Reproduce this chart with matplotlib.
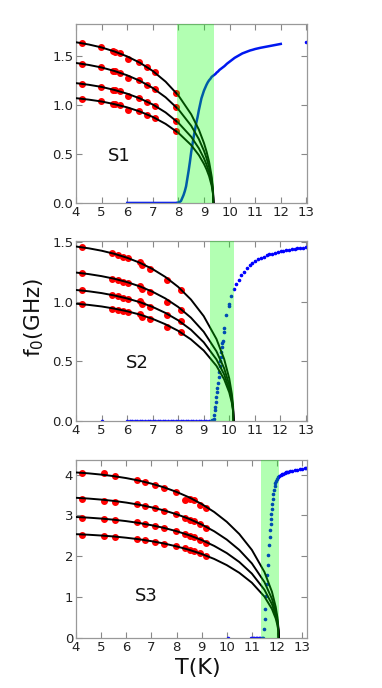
import matplotlib
matplotlib.use("Agg")
import matplotlib.pyplot as plt

# ---- S1 ----
s1_fit_T = [4, 4.5, 5, 5.5, 6, 6.5, 7, 7.5, 8, 8.5, 8.8, 9.0, 9.1, 9.2, 9.3, 9.35, 9.37]
s1_fits = [
    [1.644, 1.621, 1.591, 1.550, 1.499, 1.434, 1.350, 1.241, 1.100, 0.907, 0.750, 0.612, 0.526, 0.421, 0.271, 0.145, 0],
    [1.432, 1.412, 1.386, 1.350, 1.306, 1.249, 1.176, 1.081, 0.958, 0.790, 0.653, 0.533, 0.458, 0.367, 0.236, 0.127, 0],
    [1.226, 1.209, 1.187, 1.156, 1.118, 1.069, 1.007, 0.926, 0.820, 0.677, 0.559, 0.456, 0.392, 0.314, 0.202, 0.108, 0],
    [1.072, 1.057, 1.038, 1.011, 0.978, 0.935, 0.880, 0.809, 0.717, 0.592, 0.489, 0.399, 0.343, 0.274, 0.177, 0.095, 0],
]
s1_meas_T = [4.24, 4.96, 5.44, 5.54, 5.70, 6.04, 6.45, 6.79, 7.08, 7.90]
s1_meas = [
    [1.633, 1.593, 1.555, 1.547, 1.531, 1.476, 1.440, 1.386, 1.337, 1.125],
    [1.422, 1.388, 1.355, 1.347, 1.333, 1.283, 1.254, 1.207, 1.164, 0.979],
    [1.217, 1.188, 1.160, 1.154, 1.141, 1.096, 1.074, 1.034, 0.997, 0.839],
    [1.065, 1.039, 1.014, 1.009, 0.998, 0.956, 0.939, 0.904, 0.872, 0.733],
]
s1_blue_T = [6.0, 6.1, 6.2, 6.3, 6.4, 6.5, 6.6, 6.7, 6.8, 6.9, 7.0, 7.1, 7.2, 7.3, 7.4, 7.5,
             7.6, 7.7, 7.8, 7.9, 8.0, 8.05, 8.1, 8.15, 8.2, 8.25, 8.3, 8.35, 8.4, 8.45, 8.5,
             8.55, 8.6, 8.65, 8.7, 8.75, 8.8, 8.85, 8.9, 8.95, 9.0, 9.05, 9.1, 9.15, 9.2, 9.25,
             9.3, 9.35, 9.4, 9.45, 9.5, 9.55, 9.6, 9.65, 9.7, 9.8, 9.9, 10.0, 10.1, 10.2, 10.3,
             10.4, 10.5, 10.6, 10.7, 10.8, 10.9, 11.0, 11.1, 11.2, 11.3, 11.4, 11.5, 11.6, 11.7,
             11.8, 11.9, 12.0]
s1_blue = [0, 0, 0, 0, 0, 0, 0, 0, 0, 0, 0, 0, 0, 0, 0, 0,
           0, 0, 0, 0, 0.005, 0.01, 0.02, 0.05, 0.08, 0.12, 0.17, 0.25, 0.33, 0.42, 0.52,
           0.60, 0.68, 0.75, 0.82, 0.88, 0.95, 1.01, 1.07, 1.11, 1.15, 1.18, 1.21, 1.235, 1.255, 1.27,
           1.29, 1.30, 1.31, 1.32, 1.335, 1.345, 1.36, 1.37, 1.38, 1.40, 1.425, 1.445, 1.465, 1.485, 1.50,
           1.515, 1.53, 1.54, 1.55, 1.56, 1.567, 1.575, 1.581, 1.587, 1.592, 1.597, 1.602, 1.607, 1.612,
           1.617, 1.622, 1.627]
s1_extra_T = [13.0]
s1_extra = [1.647]

# ---- S2 ----
s2_fit_T = [4, 4.5, 5, 5.5, 6, 6.5, 7, 7.5, 8, 8.5, 9, 9.5, 9.8, 10.0, 10.1, 10.15, 10.17]
s2_fits = [
    [1.462, 1.447, 1.427, 1.401, 1.368, 1.326, 1.273, 1.207, 1.124, 1.018, 0.879, 0.687, 0.520, 0.357, 0.230, 0.124, 0],
    [1.244, 1.231, 1.214, 1.192, 1.164, 1.128, 1.083, 1.027, 0.956, 0.866, 0.748, 0.584, 0.442, 0.304, 0.196, 0.105, 0],
    [1.098, 1.087, 1.072, 1.052, 1.027, 0.996, 0.956, 0.906, 0.844, 0.765, 0.660, 0.516, 0.391, 0.268, 0.173, 0.093, 0],
    [0.983, 0.973, 0.960, 0.942, 0.920, 0.892, 0.856, 0.811, 0.756, 0.684, 0.591, 0.462, 0.350, 0.240, 0.155, 0.083, 0],
]
s2_meas_T = [4.24, 5.41, 5.65, 5.85, 6.03, 6.50, 6.59, 6.88, 7.57, 8.10]
s2_meas = [
    [1.457, 1.406, 1.392, 1.378, 1.364, 1.330, 1.305, 1.276, 1.178, 1.095],
    [1.238, 1.190, 1.182, 1.165, 1.156, 1.132, 1.106, 1.080, 1.000, 0.930],
    [1.096, 1.056, 1.048, 1.030, 1.026, 1.008, 0.980, 0.958, 0.888, 0.840],
    [0.978, 0.941, 0.930, 0.922, 0.913, 0.894, 0.868, 0.852, 0.784, 0.742],
]
s2_blue_T = [5.0, 6.0, 6.1, 6.2, 6.3, 6.4, 6.5, 6.6, 6.7, 6.8, 6.9, 7.0, 7.1, 7.2, 7.3, 7.4,
             7.5, 7.6, 7.7, 7.8, 7.9, 8.0, 8.1, 8.2, 8.3, 8.4, 8.5, 8.6, 8.7, 8.8, 8.9, 9.0,
             9.1, 9.2, 9.3, 9.34, 9.37, 9.40, 9.42, 9.44, 9.46, 9.48, 9.50, 9.52, 9.54, 9.56,
             9.58, 9.60, 9.62, 9.64, 9.66, 9.68, 9.70, 9.72, 9.74, 9.79, 9.80, 9.88, 9.98, 9.99,
             10.08, 10.18, 10.28, 10.38, 10.48, 10.59, 10.70, 10.81, 10.91, 11.02, 11.13, 11.24,
             11.35, 11.46, 11.57, 11.68, 11.79, 11.90, 12.01, 12.12, 12.23, 12.34, 12.45, 12.56,
             12.67, 12.78, 12.89, 13.0]
s2_blue = [0, 0, 0, 0, 0, 0, 0, 0, 0, 0, 0, 0, 0, 0, 0, 0,
           0, 0, 0, 0, 0, 0, 0, 0, 0, 0, 0, 0, 0, 0, 0, 0,
           0, 0, 0.002, 0.005, 0.01, 0.02, 0.05, 0.09, 0.12, 0.16, 0.20, 0.24, 0.28, 0.32,
           0.37, 0.415, 0.46, 0.50, 0.54, 0.58, 0.62, 0.65, 0.67, 0.75, 0.78, 0.89, 0.96, 0.98,
           1.05, 1.11, 1.15, 1.185, 1.22, 1.25, 1.28, 1.305, 1.322, 1.339, 1.355, 1.368,
           1.378, 1.388, 1.396, 1.403, 1.410, 1.416, 1.421, 1.426, 1.431, 1.435, 1.439, 1.443,
           1.446, 1.449, 1.452, 1.455]

# ---- S3 ----
s3_fit_T = [4, 4.5, 5, 5.5, 6, 6.5, 7, 7.5, 8, 8.5, 9, 9.5, 10, 10.5, 11, 11.5, 11.8, 11.95, 12.02, 12.06, 12.07]
s3_fits = [
    [4.05, 4.028, 3.998, 3.960, 3.912, 3.852, 3.777, 3.686, 3.575, 3.441, 3.279, 3.083, 2.843, 2.543, 2.155, 1.615, 1.130, 0.759, 0.491, 0.220, 0],
    [3.43, 3.411, 3.386, 3.354, 3.313, 3.262, 3.198, 3.122, 3.028, 2.915, 2.777, 2.611, 2.408, 2.154, 1.825, 1.368, 0.957, 0.643, 0.416, 0.187, 0],
    [2.96, 2.944, 2.922, 2.894, 2.859, 2.815, 2.760, 2.694, 2.613, 2.515, 2.397, 2.253, 2.078, 1.859, 1.575, 1.180, 0.826, 0.555, 0.359, 0.161, 0],
    [2.54, 2.526, 2.507, 2.484, 2.453, 2.416, 2.369, 2.312, 2.242, 2.158, 2.057, 1.934, 1.783, 1.595, 1.352, 1.013, 0.709, 0.476, 0.308, 0.138, 0],
]
s3_meas_T = [4.24, 5.10, 5.57, 6.41, 6.73, 7.13, 7.51, 7.97, 8.33, 8.52, 8.68, 8.95, 9.17]
s3_meas = [
    [4.03, 4.03, 3.96, 3.86, 3.82, 3.75, 3.68, 3.56, 3.38, 3.39, 3.37, 3.26, 3.18],
    [3.39, 3.36, 3.33, 3.27, 3.23, 3.17, 3.11, 3.03, 2.94, 2.89, 2.86, 2.79, 2.70],
    [2.93, 2.91, 2.89, 2.83, 2.79, 2.75, 2.69, 2.61, 2.55, 2.49, 2.47, 2.39, 2.33],
    [2.52, 2.50, 2.48, 2.42, 2.40, 2.36, 2.31, 2.24, 2.19, 2.15, 2.12, 2.07, 2.00],
]
s3_blue_T = [10.04, 10.97, 11.04, 11.10, 11.16, 11.22, 11.28, 11.34, 11.40, 11.44, 11.48, 11.51,
             11.53, 11.57, 11.60, 11.61, 11.64, 11.65, 11.68, 11.71, 11.73, 11.75, 11.77, 11.78,
             11.79, 11.80, 11.83, 11.85, 11.88, 11.91, 11.94, 11.97, 12.01, 12.05, 12.10, 12.15,
             12.20, 12.25, 12.30, 12.35, 12.40, 12.45, 12.50, 12.60, 12.70, 12.80, 12.90, 13.00,
             13.10, 13.17]
s3_blue = [0, 0, 0, 0, 0, 0, 0, 0, 0, 0.01, 0.22, 0.46,
           0.70, 1.02, 1.31, 1.55, 1.79, 2.03, 2.27, 2.48, 2.65, 2.80, 2.92, 3.04,
           3.16, 3.28, 3.40, 3.52, 3.62, 3.71, 3.78, 3.84, 3.89, 3.93, 3.97, 3.99,
           4.01, 4.02, 4.04, 4.05, 4.06, 4.07, 4.08, 4.09, 4.10, 4.12, 4.13, 4.14,
           4.15, 4.15]

bands = [(7.95, 9.38), (9.23, 10.19), (11.36, 12.1)]
ylims = [1.83, 1.51, 4.36]
xmax = [13.03, 13.05, 13.2]
names = ["S1", "S2", "S3"]
name_pos = [(5.68, 0.48), (6.40, 0.49), (6.81, 1.03)]

fig = plt.figure(figsize=(3.82, 6.88), dpi=100)
boxes = [[0.199, 0.705, 0.605, 0.260],
         [0.199, 0.388, 0.605, 0.262],
         [0.199, 0.0727, 0.605, 0.259]]

panels = [
    (s1_fit_T, s1_fits, s1_meas_T, s1_meas, s1_blue_T, s1_blue),
    (s2_fit_T, s2_fits, s2_meas_T, s2_meas, s2_blue_T, s2_blue),
    (s3_fit_T, s3_fits, s3_meas_T, s3_meas, s3_blue_T, s3_blue),
]

for i, (fT, fits, mT, meas, bT, blue) in enumerate(panels):
    ax = fig.add_axes(boxes[i])
    if i == 0:
        ax.plot(bT, blue, '-', color='#0018f0', lw=1.8, zorder=2)
        ax.plot(s1_extra_T, s1_extra, '.', color='blue', ms=3, zorder=2)
    else:
        ax.plot(bT, blue, '.', color='blue', ms=3.2, zorder=2)
    for m in meas:
        ax.plot(mT, m, 'o', color='red', mec='red', ms=4, zorder=3)
    for f in fits:
        ax.plot(fT, f, '-', color='black', lw=1.4, zorder=4)
    ax.axvspan(bands[i][0], bands[i][1], color=(0, 1, 0), alpha=0.3, lw=0, zorder=10)
    ax.set_xlim(4, xmax[i])
    ax.set_ylim(0, ylims[i])
    ax.set_xticks(range(4, 14))
    if i < 2:
        ax.set_yticks([0, 0.5, 1.0, 1.5])
        ax.set_yticklabels(["0.0", "0.5", "1.0", "1.5"])
    else:
        ax.set_yticks([0, 1, 2, 3, 4])
    ax.tick_params(direction='in', top=True, right=True, length=4, width=0.8,
                   color='#888888', labelsize=9.5, labelcolor='#222222', pad=2)
    for sp in ax.spines.values():
        sp.set_color('#999999')
        sp.set_linewidth(0.9)
    ax.text(name_pos[i][0], name_pos[i][1], names[i], fontsize=13,
            ha='center', va='center', color='#111111')

fig.text(34 / 382, 1 - 318 / 688, "f$_0$(GHz)", rotation=90, fontsize=15.5,
         ha='center', va='center', color='#111111')
fig.text(198 / 382, 1 - 668 / 688, "T(K)", fontsize=16, ha='center', va='center',
         color='#111111')

fig.savefig("out.png", dpi=100)
